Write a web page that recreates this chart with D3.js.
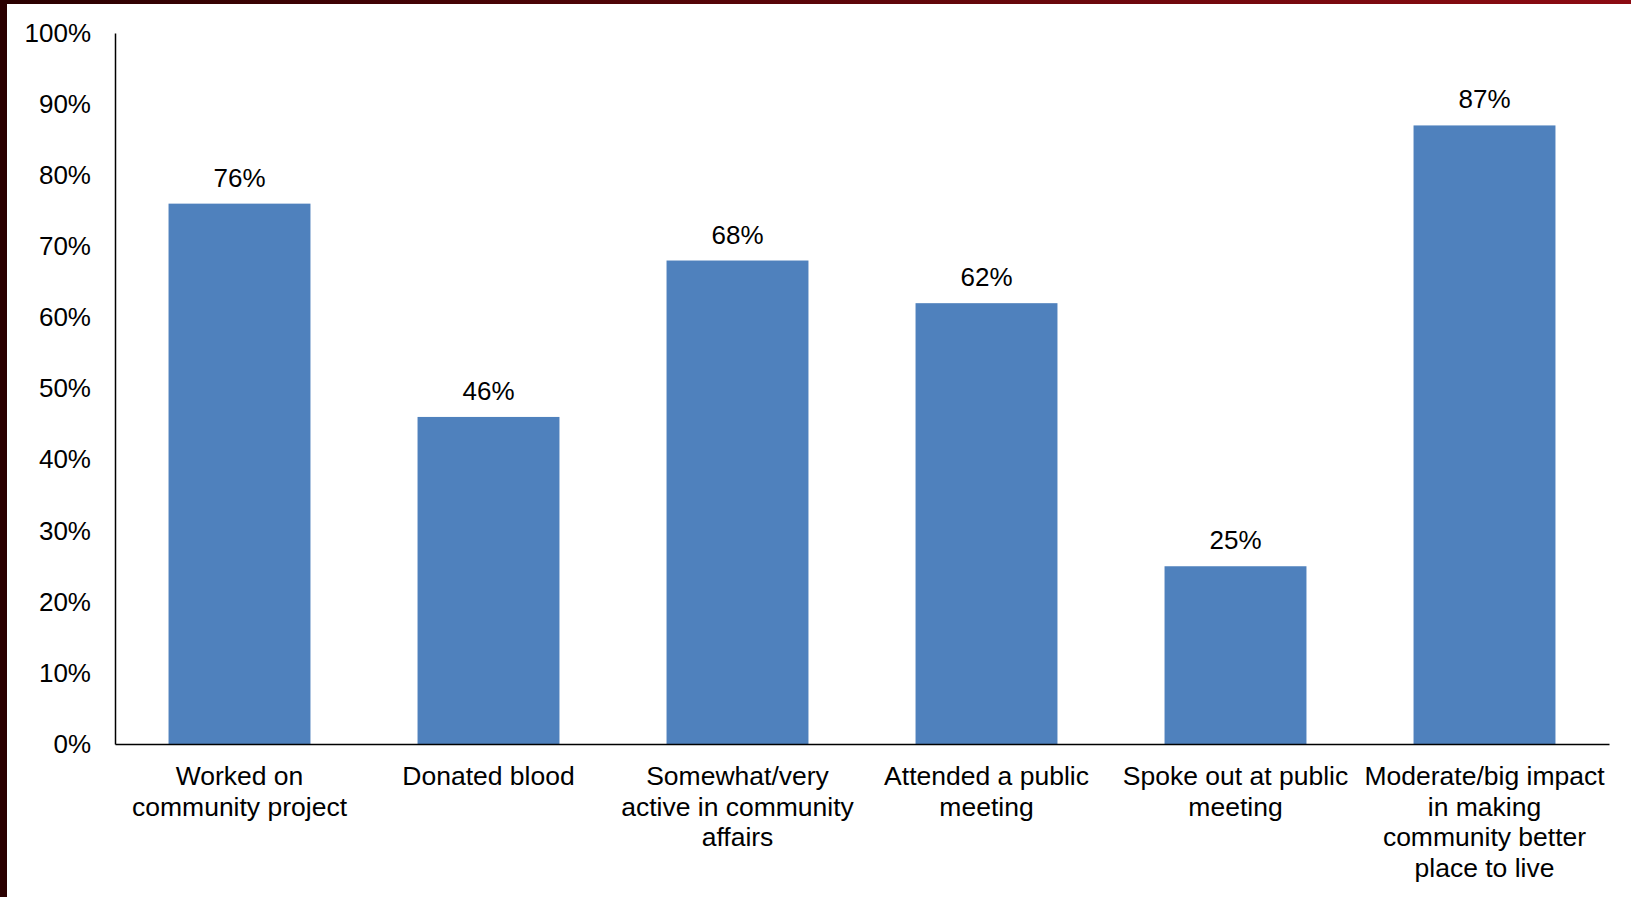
<!DOCTYPE html>
<html>
<head>
<meta charset="utf-8">
<script src="https://cdn.jsdelivr.net/npm/d3@7"></script>
<style>
  html, body { margin: 0; padding: 0; background: #fff; }
  svg { display: block; }
  text { font-family: "Liberation Sans", Arial, sans-serif; fill: #000; }
</style>
</head>
<body>
<svg id="chart" width="1631" height="897"></svg>
<script>
// Survey results: share of respondents for each community activity
const categories = [
  "Worked on\ncommunity project",
  "Donated blood",
  "Somewhat/very\nactive in community\naffairs",
  "Attended a public\nmeeting",
  "Spoke out at public\nmeeting",
  "Moderate/big impact\nin making\ncommunity better\nplace to live"
];
const values = [76, 46, 68, 62, 25, 87];
const yTicks = [0, 10, 20, 30, 40, 50, 60, 70, 80, 90, 100];

const W = 1631, H = 897;
const plot = { left: 115, right: 1609, top: 33, bottom: 744 };
const svg = d3.select("#chart");

// Frame: dark red gradient strip on top, dark strip on the left
const defs = svg.append("defs");
const grad = defs.append("linearGradient").attr("id", "topStrip")
  .attr("x1", "0%").attr("x2", "100%").attr("y1", "0%").attr("y2", "0%");
grad.append("stop").attr("offset", "0%").attr("stop-color", "#2a0000");
grad.append("stop").attr("offset", "100%").attr("stop-color", "#8c0b12");
svg.append("rect").attr("x", 0).attr("y", 0).attr("width", W).attr("height", 4)
  .attr("fill", "url(#topStrip)");
svg.append("rect").attr("x", 0).attr("y", 0).attr("width", 7).attr("height", H)
  .attr("fill", "#2b0000");

const x = d3.scaleBand()
  .domain(d3.range(categories.length))
  .range([plot.left, plot.right])
  .paddingInner(0.43)
  .paddingOuter(0.215);

const y = d3.scaleLinear().domain([0, 100]).range([plot.bottom, plot.top]);

// Bars
svg.append("g").selectAll("rect")
  .data(values)
  .join("rect")
  .attr("x", (d, i) => x(i))
  .attr("y", d => y(d))
  .attr("width", x.bandwidth())
  .attr("height", d => y(0) - y(d))
  .attr("fill", "#4f81bd");

// Value labels above bars
svg.append("g").selectAll("text")
  .data(values)
  .join("text")
  .attr("x", (d, i) => x(i) + x.bandwidth() / 2)
  .attr("y", d => y(d) - 17)
  .attr("text-anchor", "middle")
  .attr("font-size", 26)
  .text(d => d + "%");

// Y axis
const yAxis = d3.axisLeft(y).tickValues(yTicks).tickSize(0).tickPadding(24)
  .tickFormat(d => d + "%");
const gy = svg.append("g").attr("transform", `translate(${plot.left},0)`).call(yAxis);
gy.select(".domain").attr("stroke", "#000").attr("stroke-width", 1.5);
gy.selectAll(".tick text").attr("font-size", 26)
  .attr("font-family", "Liberation Sans, Arial, sans-serif").attr("fill", "#000");

// X axis
const xAxis = d3.axisBottom(x).tickSize(0).tickFormat("");
const gx = svg.append("g").attr("transform", `translate(0,${plot.bottom})`).call(xAxis);
gx.select(".domain").attr("stroke", "#000").attr("stroke-width", 1.5);

// Multi-line category labels
gx.selectAll(".tick").each(function(d) {
  const lines = categories[d].split("\n");
  const t = d3.select(this).append("text")
    .attr("text-anchor", "middle")
    .attr("font-size", 26.5)
    .attr("fill", "#000")
    .attr("font-family", "Liberation Sans, Arial, sans-serif");
  lines.forEach((ln, k) => {
    t.append("tspan").attr("x", 0).attr("y", 41 + k * 30.5).text(ln);
  });
});
</script>
</body>
</html>
